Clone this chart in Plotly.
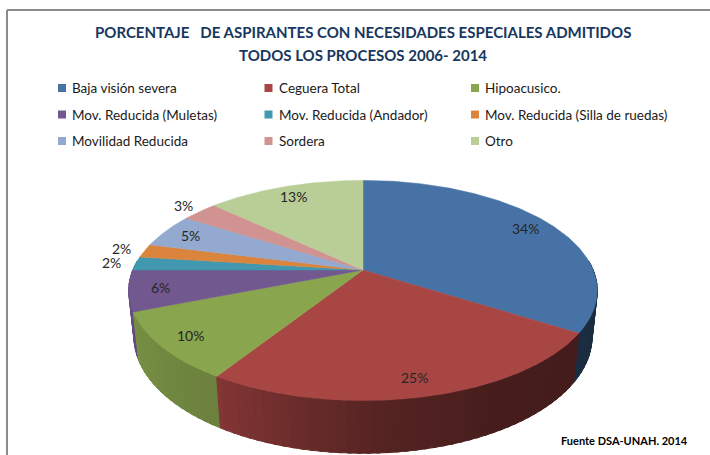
import numpy as np
import plotly.graph_objects as go

# ---- data -------------------------------------------------------------
categories = [
    "Baja visión severa",
    "Ceguera Total",
    "Hipoacusico.",
    "Mov. Reducida (Muletas)",
    "Mov. Reducida (Andador)",
    "Mov. Reducida (Silla de ruedas)",
    "Movilidad Reducida",
    "Sordera",
    "Otro",
]
percentages = [34, 25, 10, 6, 2, 2, 5, 3, 13]
colors = [
    "#4672A6", "#A84644", "#89A54E", "#71588F", "#4198AF",
    "#DB843D", "#93A9CF", "#D19392", "#B9CD96",
]

title_lines = [
    "PORCENTAJE\u00a0\u00a0 DE ASPIRANTES CON NECESIDADES ESPECIALES ADMITIDOS",
    "TODOS LOS PROCESOS 2006- 2014",
]
source_note = "Fuente DSA-UNAH. 2014"

# ---- canvas / 3D pie camera --------------------------------------------
W, H = 710, 455
CX, CY = 363, 270          # screen position of the pie centre
FOCAL, DIST = 1098.0, 4.77  # perspective camera
TILT = np.radians(27.5)     # elevation of the viewpoint
THICK = 0.23                # pie thickness (radius = 1)
S, C = np.sin(TILT), np.cos(TILT)


def project(u, v, z):
    """World (u right, v back, z up) -> screen pixels."""
    yc = v * S + z * C
    depth = DIST + v * C - z * S
    return CX + FOCAL * u / depth, CY - FOCAL * yc / depth


def rim(theta_deg, z=0.0, r=1.0):
    t = np.radians(theta_deg)
    return project(r * np.sin(t), r * np.cos(t), z)


def shade(hex_color, k):
    h = hex_color.lstrip("#")
    rgb = [int(h[i:i + 2], 16) for i in (0, 2, 4)]
    return "rgb({},{},{})".format(*[int(round(c * k)) for c in rgb])


total = float(sum(percentages))
bounds = np.concatenate([[0.0], np.cumsum(percentages) / total * 360.0])

fig = go.Figure()

# side wall, drawn in thin bands back-to-front so the gradient reads smoothly
bands = []
for i, col in enumerate(colors):
    a0, a1 = bounds[i], bounds[i + 1]
    lo, hi = max(a0, 85.0), min(a1, 275.0)
    if hi <= lo:
        continue
    edges = np.arange(lo, hi, 2.0).tolist() + [hi]
    for b0, b1 in zip(edges[:-1], edges[1:]):
        mid = 0.5 * (b0 + b1)
        # extend each band slightly into its neighbour to hide seams
        e1 = min(b1 + 0.8, hi)
        bands.append((np.cos(np.radians(mid)), b0, e1, col, mid))

bands.sort(key=lambda b: -b[0])  # far first
for _, b0, b1, col, mid in bands:
    ts = np.linspace(b0, b1, 4)
    tx, ty = rim(ts)
    bx, by = rim(ts[::-1], -THICK)
    k = np.interp(mid, [100, 125, 150, 175, 212, 250, 280],
                  [0.38, 0.40, 0.42, 0.50, 0.78, 0.88, 0.88])
    c = shade(col, k)
    fig.add_trace(go.Scatter(
        x=np.concatenate([tx, bx, tx[:1]]), y=np.concatenate([ty, by, ty[:1]]),
        mode="lines", fill="toself", fillcolor=c, line=dict(color=c, width=1.0),
        hoverinfo="skip", showlegend=False))

# top faces
for i, (name, val, col) in enumerate(zip(categories, percentages, colors)):
    ts = np.linspace(bounds[i], bounds[i + 1], max(3, int(val * 6)))
    ax, ay = rim(ts)
    fig.add_trace(go.Scatter(
        x=np.concatenate([[CX], ax, [CX]]), y=np.concatenate([[CY], ay, [CY]]),
        mode="lines", fill="toself", fillcolor=col, line=dict(color=col, width=0.5),
        name=name, text=f"{name}: {val}%", hoverinfo="text", showlegend=False))

# data labels (small slices outside the rim)
annotations = []
for i, val in enumerate(percentages):
    mid = 0.5 * (bounds[i] + bounds[i + 1])
    r = 1.11 if val < 4 else 0.87
    lx, ly = rim(mid, 0.0, r)
    annotations.append(dict(x=lx, y=ly, text=f"{val}%", showarrow=False,
                            font=dict(family="Lato", size=14, color="#262626"),
                            xanchor="center", yanchor="middle"))

# legend: three columns of coloured squares
shapes = []
for i, (name, col) in enumerate(zip(categories, colors)):
    gx = 62 + (i % 3) * 206.5
    gy = 88 + (i // 3) * 26.5
    shapes.append(dict(type="rect", x0=gx - 4, x1=gx + 4, y0=gy - 4, y1=gy + 4,
                       fillcolor=col, line=dict(width=0), layer="above"))
    annotations.append(dict(x=gx + 8, y=gy, text=name, showarrow=False,
                            xanchor="left", yanchor="middle",
                            font=dict(family="Lato", size=13.5, color="#1a1a1a")))

# title and source
for j, line in enumerate(title_lines):
    annotations.append(dict(x=363, y=32 + j * 23, text=f"<b>{line}</b>",
                            showarrow=False, xanchor="center", yanchor="middle",
                            font=dict(family="Lato", size=15, color="#17375E")))
annotations.append(dict(x=559, y=440, text=f"<b>{source_note}</b>", showarrow=False,
                        xanchor="left", yanchor="middle",
                        font=dict(family="Lato", size=11, color="#000000")))

# chart frame (top and left edges fall inside the canvas)
shapes.append(dict(type="line", x0=7, x1=W + 5, y0=10, y1=10,
                   line=dict(color="#8C8C8C", width=2)))
shapes.append(dict(type="line", x0=7, x1=7, y0=10, y1=H + 5,
                   line=dict(color="#8C8C8C", width=2)))

fig.update_layout(
    width=W, height=H,
    margin=dict(l=0, r=0, t=0, b=0),
    paper_bgcolor="white", plot_bgcolor="white",
    xaxis=dict(range=[0, W], visible=False, fixedrange=True),
    yaxis=dict(range=[H, 0], visible=False, fixedrange=True),
    annotations=annotations, shapes=shapes,
    showlegend=False,
)

fig.write_html("out.html")
